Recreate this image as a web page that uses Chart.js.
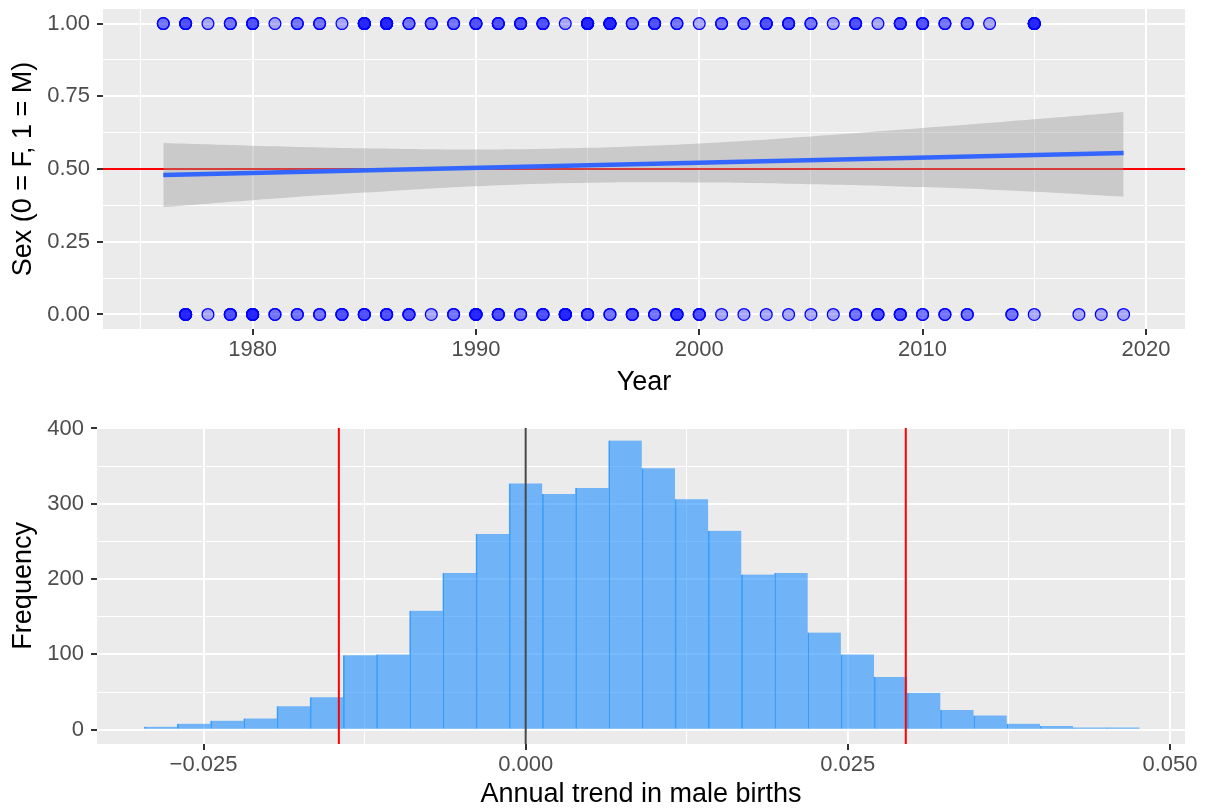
<!DOCTYPE html>
<html>
<head>
<meta charset="utf-8">
<script src="https://cdn.jsdelivr.net/npm/chart.js@4.4.1/dist/chart.umd.min.js"></script>
<style>
  html, body { margin: 0; padding: 0; background: #fff; }
  #wrap { position: relative; width: 1205px; height: 811px; }
  canvas { position: absolute; left: 0; }
  #sexChart { top: 0; }
  #histChart { top: 405px; }
</style>
</head>
<body>
<div id="wrap">
  <canvas id="sexChart" width="1205" height="405"></canvas>
  <canvas id="histChart" width="1205" height="406"></canvas>
</div>
<script>
// --- top panel: births by year and sex ---
const maleYears = [1976, 1977, 1978, 1979, 1980, 1981, 1982, 1983, 1984, 1985, 1986, 1987, 1988, 1989,
  1990, 1991, 1992, 1993, 1994, 1995, 1996, 1997, 1998, 1999, 2000, 2001, 2002, 2003, 2004, 2005,
  2006, 2007, 2008, 2009, 2010, 2011, 2012, 2013, 2015];
const maleCounts = [2, 3, 1, 2, 3, 1, 2, 2, 1, 5, 5, 2, 2, 2,
  3, 3, 3, 3, 1, 5, 5, 2, 3, 2, 1, 2, 2, 3, 3, 2,
  1, 3, 1, 3, 3, 2, 2, 1, 5];
const femaleYears = [1977, 1978, 1979, 1980, 1981, 1982, 1983, 1984, 1985, 1986, 1987, 1988, 1989,
  1990, 1991, 1992, 1993, 1994, 1995, 1996, 1997, 1998, 1999, 2000, 2001, 2002, 2003, 2004, 2005,
  2006, 2007, 2008, 2009, 2010, 2011, 2012, 2014, 2015, 2017, 2018, 2019];
const femaleCounts = [5, 1, 3, 5, 2, 2, 2, 3, 3, 3, 3, 1, 2,
  5, 3, 2, 3, 5, 3, 2, 3, 2, 4, 3, 1, 1, 1, 1, 1,
  1, 2, 3, 3, 2, 2, 2, 2, 1, 1, 1, 1];

// linear trend + confidence band
const fitYears = [1976, 2019];
const fitValues = [0.479, 0.555];
const bandYears = [1976, 1980, 1985, 1990, 1995, 2000, 2005, 2010, 2015, 2019];
const bandUpper = [0.589, 0.580, 0.571, 0.567, 0.573, 0.588, 0.612, 0.641, 0.671, 0.696];
const bandLower = [0.369, 0.393, 0.419, 0.441, 0.453, 0.454, 0.448, 0.438, 0.422, 0.405];
const sexRefLine = 0.5;

// --- bottom panel: histogram of annual trend ---
const binMids = [-0.028325, -0.02575, -0.023175, -0.0206, -0.018025, -0.01545, -0.012875, -0.0103,
  -0.007725, -0.00515, -0.002575, 0, 0.002575, 0.00515, 0.007725, 0.0103, 0.012875, 0.01545,
  0.018025, 0.0206, 0.023175, 0.02575, 0.028325, 0.0309, 0.033475, 0.03605, 0.038625, 0.0412,
  0.043775, 0.04635];
const binCounts = [4, 8, 12, 15, 31, 43, 99, 100, 158, 208, 260, 327, 313, 321, 384, 347, 306, 264,
  206, 208, 129, 100, 70, 49, 26, 19, 8, 5, 3, 3];
const ciLow = -0.0145;
const ciHigh = 0.0295;
const zeroLine = 0;

Chart.defaults.font.family = '"Liberation Sans", Arial, Helvetica, sans-serif';
Chart.defaults.animation = false;
Chart.defaults.events = [];

const TICK_COL = '#4D4D4D';
const isMult = (v, step) => Math.abs(v / step - Math.round(v / step)) < 1e-6;

// grey ggplot-style panel
const panelBg = {
  id: 'panelBg',
  beforeDraw(chart) {
    const { ctx, chartArea: a } = chart;
    ctx.save();
    ctx.fillStyle = '#EBEBEB';
    ctx.fillRect(a.left, a.top, a.right - a.left, a.bottom - a.top);
    ctx.restore();
  }
};

function drawRefLines(chart, list) {
  const { ctx, chartArea: a, scales } = chart;
  ctx.save();
  ctx.beginPath();
  ctx.rect(a.left, a.top, a.right - a.left, a.bottom - a.top);
  ctx.clip();
  list.forEach(l => {
    ctx.strokeStyle = l.color;
    ctx.lineWidth = l.width;
    ctx.beginPath();
    if (l.axis === 'y') {
      const y = scales.y.getPixelForValue(l.value);
      ctx.moveTo(a.left, y); ctx.lineTo(a.right, y);
    } else {
      const x = scales.x.getPixelForValue(l.value);
      ctx.moveTo(x, a.top); ctx.lineTo(x, a.bottom);
    }
    ctx.stroke();
  });
  ctx.restore();
}

// ggplot-like axis: minor gridlines thin, major thicker with a tick mark + label
function axisStyle(step, major, fmt, pad, vertical, extra) {
  return Object.assign({
    type: 'linear',
    border: { display: false },
    grid: {
      offset: false,
      color: '#FFFFFF',
      lineWidth: c => (c.tick && isMult(c.tick.value, major)) ? 2 : 1,
      tickLength: 6,
      tickWidth: 2,
      tickColor: c => (c.tick && isMult(c.tick.value, major)) ? '#333333' : 'rgba(0,0,0,0)'
    },
    ticks: {
      stepSize: step,
      includeBounds: false,
      autoSkip: false,
      maxRotation: 0,
      padding: pad,
      color: TICK_COL,
      // small lineHeight on y so the label doesn't push the panel down
      font: vertical ? { size: 22, lineHeight: 0.1 } : { size: 22 },
      callback: v => isMult(v, major) ? fmt(v) : ''
    }
  }, extra);
}

function expand(years, counts, sex) {
  const pts = [];
  years.forEach((yr, i) => {
    for (let k = 0; k < counts[i]; k++) pts.push({ x: yr, y: sex });
  });
  return pts;
}

const pointStyle = {
  showLine: false,
  pointRadius: 5.9,
  pointBorderWidth: 1.3,
  pointBorderColor: '#0000FF',
  pointBackgroundColor: 'rgba(0,0,255,0.3)'
};

new Chart(document.getElementById('sexChart'), {
  type: 'scatter',
  data: {
    datasets: [
      {
        order: 0, showLine: true, data: fitYears.map((y, i) => ({ x: y, y: fitValues[i] })),
        borderColor: '#3366FF', borderWidth: 4.5, pointRadius: 0
      },
      {
        order: 1, showLine: true, data: bandYears.map((y, i) => ({ x: y, y: bandUpper[i] })),
        borderWidth: 0, pointRadius: 0, tension: 0.4, fill: '+1',
        backgroundColor: 'rgba(153,153,153,0.4)'
      },
      {
        order: 2, showLine: true, data: bandYears.map((y, i) => ({ x: y, y: bandLower[i] })),
        borderWidth: 0, pointRadius: 0, tension: 0.4, fill: false
      },
      Object.assign({ order: 3, data: expand(maleYears, maleCounts, 1) }, pointStyle),
      Object.assign({ order: 4, data: expand(femaleYears, femaleCounts, 0) }, pointStyle)
    ]
  },
  options: {
    responsive: false,
    layout: { padding: { top: 9, right: 20, left: 0, bottom: 0 } },
    plugins: { legend: { display: false }, tooltip: { enabled: false } },
    scales: {
      x: axisStyle(5, 10, v => String(v), 2, false, {
        min: 1973.3, max: 2021.75,
        afterFit: s => { s.height = 76; },
        title: { display: true, text: 'Year', color: '#000', font: { size: 27 }, padding: { top: 0, bottom: 6 } }
      }),
      y: axisStyle(0.125, 0.25, v => v.toFixed(2), 7, true, {
        min: -0.05, max: 1.05,
        afterFit: s => { s.width = 103; },
        title: { display: true, text: 'Sex (0 = F, 1 = M)', color: '#000', font: { size: 27 }, padding: { top: 7, bottom: 0 } }
      })
    }
  },
  plugins: [panelBg, {
    id: 'sexRef',
    beforeDatasetsDraw(chart) {
      drawRefLines(chart, [{ axis: 'y', value: sexRefLine, color: '#FF0000', width: 2 }]);
    }
  }]
});

new Chart(document.getElementById('histChart'), {
  type: 'bar',
  data: {
    datasets: [{
      data: binMids.map((m, i) => ({ x: m, y: binCounts[i] })),
      backgroundColor: 'rgba(30,144,255,0.6)',
      borderColor: 'rgba(30,144,255,0.8)',
      borderWidth: { left: 1, right: 0, top: 0, bottom: 0 },
      borderSkipped: false,
      barPercentage: 1,
      categoryPercentage: 1
    }]
  },
  options: {
    responsive: false,
    layout: { padding: { top: 22.7, right: 20, left: 0, bottom: 0 } },
    plugins: { legend: { display: false }, tooltip: { enabled: false } },
    scales: {
      x: axisStyle(0.0125, 0.025, v => v.toFixed(3).replace('-', '\u2212'), 2, false, {
        min: -0.03327, max: 0.05117, offset: false,
        afterFit: s => { s.height = 67; },
        title: { display: true, text: 'Annual trend in male births', color: '#000', font: { size: 27 }, padding: { top: 0, bottom: 0 } }
      }),
      y: axisStyle(50, 100, v => String(v), 7, true, {
        min: -19, max: 401,
        afterFit: s => { s.width = 97; },
        title: { display: true, text: 'Frequency', color: '#000', font: { size: 27 }, padding: { top: 7, bottom: 0 } }
      })
    }
  },
  plugins: [panelBg, {
    id: 'histRef',
    afterDatasetsDraw(chart) {
      drawRefLines(chart, [
        { axis: 'x', value: ciLow, color: '#FF0000', width: 2 },
        { axis: 'x', value: ciHigh, color: '#FF0000', width: 2 },
        { axis: 'x', value: zeroLine, color: '#474747', width: 2 }
      ]);
    }
  }]
});
</script>
</body>
</html>
